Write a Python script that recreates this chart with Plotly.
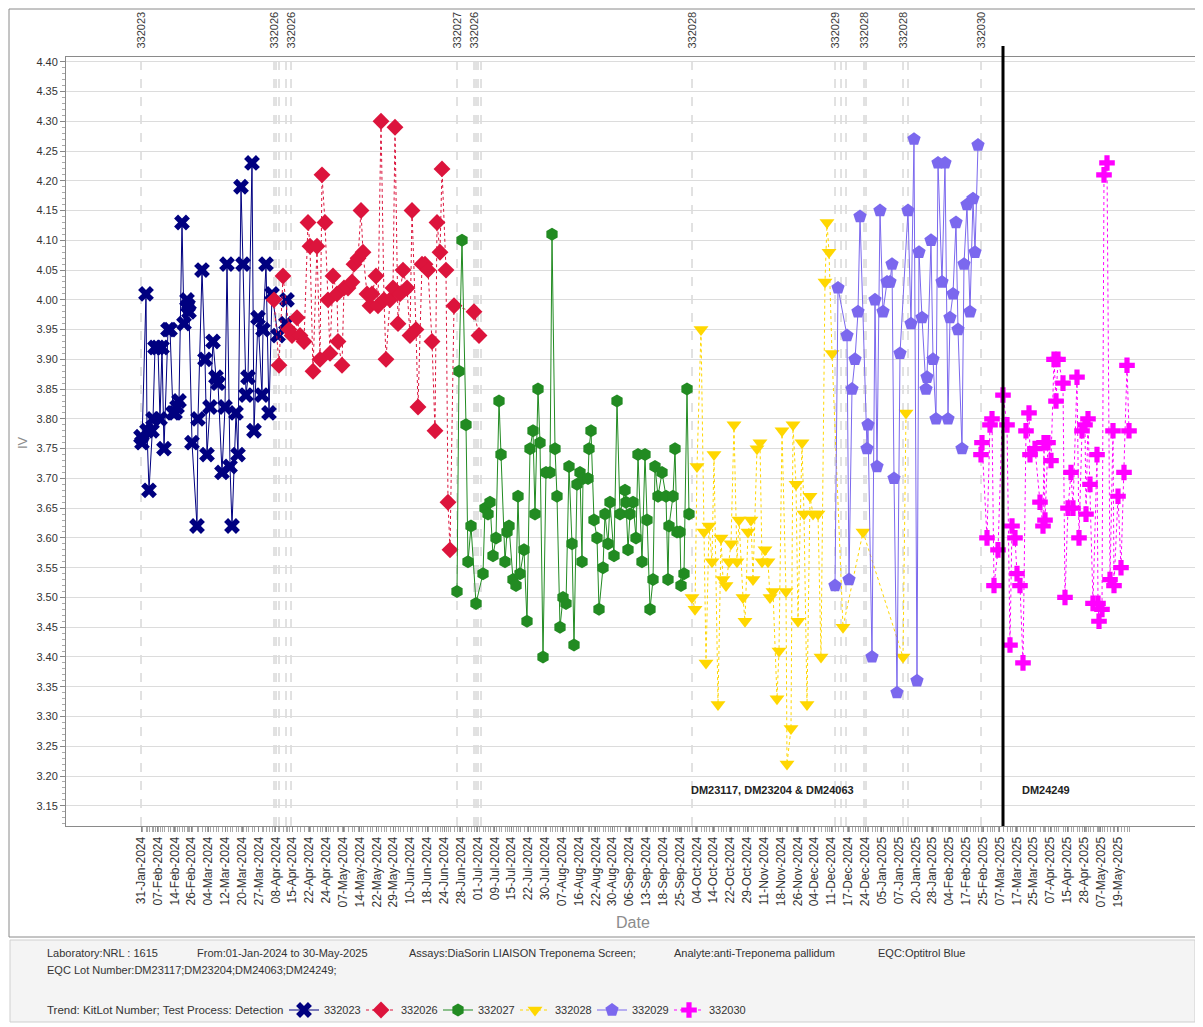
import plotly.graph_objects as go

# ---------------- data (x = run position on the ordinal date axis) ----------------
lot_names = ["332023", "332026", "332027", "332028", "332029", "332030"]
lot_colors = ["#000080", "#DC143C", "#228B22", "#FFD700", "#7B68EE", "#FF00FF"]
lot_symbols = ["x", "diamond", "hexagon", "triangle-down", "pentagon", "cross"]
lot_dash = ["solid", "dot", "solid", "dot", "solid", "dot"]
lot_sizes = [14, 13, 13, 13, 14, 13]

run_332023 = [0, 1, 5, 6, 8, 11, 12, 14, 17, 19, 21, 23, 27, 29, 32, 34, 36, 38, 41, 43,
              46, 47, 48, 51, 56, 57, 61, 64, 66, 69, 72, 75, 77, 81, 84, 86, 89, 91, 95, 97,
              100, 102, 105, 107, 111, 113, 117, 121, 122, 125, 128, 131, 137, 145, 146]
iv_332023 = [3.77, 3.76, 4.01, 3.78, 3.68, 3.78, 3.80, 3.92, 3.92, 3.80, 3.92, 3.75, 3.95, 3.95, 3.81,
             3.81, 3.82, 3.83, 4.13, 3.96, 4.00, 3.99, 3.98, 3.76, 3.62, 3.80, 4.05, 3.90, 3.74, 3.82,
             3.93, 3.87, 3.86, 3.71, 3.82, 4.06, 3.72, 3.62, 3.81, 3.74, 4.19, 4.06, 3.84, 3.87, 4.23,
             3.78, 3.97, 3.84, 3.95, 4.06, 3.81, 4.01, 3.94, 3.96, 4.00]

run_332026 = [133, 138, 142, 148, 151, 156, 159, 163, 167, 169, 172, 176, 179, 181, 184, 187, 189, 192,
              196, 197, 201, 203, 207, 211, 213, 217, 220, 222, 226, 229, 231, 235, 237, 240, 243, 245,
              249, 252, 254, 257, 259, 262, 266, 269, 271, 275, 277, 281, 284, 287, 291, 294, 296, 299,
              301, 305, 307, 309, 313, 333, 338]
iv_332026 = [4.00, 3.89, 4.04, 3.95, 3.94, 3.97, 3.94, 3.93, 4.13, 4.09, 3.88, 4.09, 3.90, 4.21, 4.13,
             4.00, 3.91, 4.04, 4.01, 3.93, 3.89, 4.02, 4.02, 4.03, 4.06, 4.07, 4.15, 4.08, 4.01, 3.99,
             4.01, 4.04, 3.99, 4.30, 4.00, 3.90, 4.00, 4.02, 4.29, 3.96, 4.01, 4.05, 4.02, 3.94, 4.15,
             3.95, 3.82, 4.06, 4.06, 4.05, 3.93, 3.78, 4.13, 4.08, 4.22, 4.05, 3.66, 3.58, 3.99, 3.98,
             3.94]

run_332027 = [316, 318, 321, 325, 327, 330, 335, 342, 344, 347, 349, 352, 355, 358, 360, 364, 366, 368,
              372, 375, 377, 379, 383, 386, 389, 392, 394, 397, 399, 402, 405, 409, 411, 414, 416, 419,
              422, 425, 428, 431, 433, 436, 439, 441, 442, 447, 448, 450, 453, 456, 458, 462, 464, 467,
              469, 473, 476, 479, 484, 485, 487, 489, 492, 495, 497, 501, 504, 506, 509, 512, 514, 517,
              521, 525, 527, 528, 532, 534, 536, 539, 540, 543, 546, 548]
iv_332027 = [3.51, 3.88, 4.10, 3.79, 3.56, 3.62, 3.49, 3.54, 3.65, 3.64, 3.66, 3.57, 3.60, 3.83, 3.74,
             3.56, 3.61, 3.62, 3.53, 3.52, 3.67, 3.54, 3.58, 3.46, 3.75, 3.78, 3.64, 3.85, 3.76, 3.40,
             3.71, 3.71, 4.11, 3.75, 3.67, 3.45, 3.50, 3.49, 3.72, 3.59, 3.42, 3.69, 3.71, 3.56, 3.70,
             3.70, 3.75, 3.78, 3.63, 3.60, 3.48, 3.55, 3.64, 3.59, 3.66, 3.57, 3.83, 3.64, 3.68, 3.66,
             3.58, 3.64, 3.66, 3.60, 3.74, 3.56, 3.74, 3.63, 3.48, 3.53, 3.72, 3.67, 3.71, 3.67, 3.53,
             3.62, 3.67, 3.75, 3.61, 3.61, 3.52, 3.54, 3.85, 3.64]

run_332028 = [551, 554, 556, 560, 563, 565, 568, 571, 573, 577, 580, 582, 585, 588, 590, 593, 596, 598,
              602, 604, 607, 610, 612, 616, 619, 621, 624, 627, 629, 632, 636, 638, 641, 645, 646, 650,
              652, 655, 657, 661, 663, 666, 669, 672, 677, 680, 684, 686, 688, 691, 702, 722, 762, 765]
iv_332028 = [3.50, 3.48, 3.72, 3.95, 3.61, 3.39, 3.62, 3.56, 3.74, 3.32, 3.60, 3.53, 3.52, 3.56, 3.59,
             3.79, 3.56, 3.63, 3.50, 3.46, 3.61, 3.63, 3.53, 3.75, 3.76, 3.56, 3.58, 3.56, 3.50, 3.51,
             3.33, 3.41, 3.78, 3.51, 3.22, 3.28, 3.79, 3.69, 3.46, 3.76, 3.64, 3.32, 3.67, 3.64, 3.64,
             3.40, 4.03, 4.13, 4.08, 3.91, 3.45, 3.61, 3.40, 3.81]

run_332029 = [694, 697, 706, 708, 711, 714, 717, 719, 726, 727, 731, 734, 736, 739, 742, 746, 749, 751,
              753, 756, 759, 767, 770, 773, 776, 778, 781, 785, 786, 790, 792, 795, 797, 801, 804, 807,
              809, 812, 815, 817, 821, 823, 826, 829, 832, 834, 837]
iv_332029 = [3.52, 4.02, 3.94, 3.53, 3.85, 3.90, 3.98, 4.14, 3.75, 3.79, 3.40, 4.00, 3.72, 4.15, 3.98,
             4.03, 4.03, 4.06, 3.70, 3.34, 3.91, 4.15, 3.96, 4.27, 3.36, 4.08, 3.97, 3.85, 3.87, 4.10,
             3.90, 3.80, 4.23, 4.03, 4.23, 3.80, 3.97, 4.01, 4.13, 3.95, 3.75, 4.06, 4.16, 3.98, 4.17,
             4.08, 4.26]

run_332030 = [840, 841, 846, 849, 851, 853, 857, 862, 866, 869, 871, 874, 876, 879, 882, 885, 888, 889,
              894, 899, 902, 903, 904, 907, 910, 913, 915, 917, 922, 924, 927, 930, 932, 936, 938, 941,
              944, 945, 947, 949, 952, 956, 957, 958, 961, 963, 966, 969, 972, 973, 977, 980, 983, 986,
              988]
iv_332030 = [3.74, 3.76, 3.60, 3.79, 3.80, 3.52, 3.58, 3.84, 3.79, 3.42, 3.62, 3.60, 3.54, 3.52, 3.39,
             3.78, 3.81, 3.74, 3.75, 3.66, 3.62, 3.76, 3.63, 3.76, 3.73, 3.90, 3.83, 3.90, 3.86, 3.50,
             3.65, 3.71, 3.65, 3.87, 3.60, 3.78, 3.79, 3.64, 3.80, 3.69, 3.49, 3.74, 3.49, 3.46, 3.48,
             4.21, 4.23, 3.53, 3.78, 3.52, 3.67, 3.55, 3.71, 3.89, 3.78]

runs = [run_332023, run_332026, run_332027, run_332028, run_332029, run_332030]
ivs = [iv_332023, iv_332026, iv_332027, iv_332028, iv_332029, iv_332030]

# date tick labels (one label every tick step along the run axis)
date_labels = ["31-Jan-2024", "07-Feb-2024", "14-Feb-2024", "26-Feb-2024", "04-Mar-2024", "12-Mar-2024",
               "20-Mar-2024", "27-Mar-2024", "08-Apr-2024", "15-Apr-2024", "22-Apr-2024", "24-Apr-2024",
               "07-May-2024", "14-May-2024", "22-May-2024", "29-May-2024", "10-Jun-2024", "18-Jun-2024",
               "24-Jun-2024", "28-Jun-2024", "01-Jul-2024", "09-Jul-2024", "15-Jul-2024", "22-Jul-2024",
               "30-Jul-2024", "07-Aug-2024", "16-Aug-2024", "22-Aug-2024", "30-Aug-2024", "06-Sep-2024",
               "13-Sep-2024", "18-Sep-2024", "25-Sep-2024", "04-Oct-2024", "14-Oct-2024", "22-Oct-2024",
               "29-Oct-2024", "11-Nov-2024", "18-Nov-2024", "26-Nov-2024", "04-Dec-2024", "11-Dec-2024",
               "17-Dec-2024", "24-Dec-2024", "05-Jan-2025", "07-Jan-2025", "20-Jan-2025", "28-Jan-2025",
               "04-Feb-2025", "17-Feb-2025", "25-Feb-2025", "07-Mar-2025", "17-Mar-2025", "25-Mar-2025",
               "07-Apr-2025", "15-Apr-2025", "28-Apr-2025", "07-May-2025", "19-May-2025"]
TICK_STEP = 16.84

# kit-lot change markers (run position, label)
lot_change_runs = [0, 133, 135, 138, 145, 150, 316, 333, 335, 337, 340, 551, 694, 700, 705, 723, 725,
                   762, 767, 840]
lot_change_labels = ["332023", "332026", "", "", "", "332026", "332027", "332026", "", "", "",
                     "332028", "332029", "", "", "332028", "", "332028", "", "332030"]

# EQC lot change
eqc_change_run = 862
eqc_groups = ["DM23117, DM23204 & DM24063", "DM24249"]
eqc_group_runs = [631, 905]
eqc_label_iv = 3.177

yticks = [round(3.15 + 0.05 * i, 2) for i in range(26)]

info_line1 = ["Laboratory:NRL : 1615", "From:01-Jan-2024 to 30-May-2025",
              "Assays:DiaSorin LIAISON Treponema Screen;", "Analyte:anti-Treponema pallidum",
              "EQC:Optitrol Blue"]
info_line1_px = [45, 195, 407, 672, 876]
info_line2 = "EQC Lot Number:DM23117;DM23204;DM24063;DM24249;"
legend_title = "Trend: KitLot Number; Test Process: Detection"

# ---------------- layout geometry (page body has an 8px margin) ----------------
OFF = 8
W, H = 1203 - OFF, 1027 - OFF
PL, PR, PT, PB = 66, 1196, 57, 826          # plot-area edges in window pixels
L, R, T = PL - OFF, W - (PR - OFF), PT - OFF
B = H - (PB - OFF)
PW, PH = PR - PL, PB - PT
FONT = "Liberation Sans, Arial, sans-serif"


def px_x(p):
    return (p - PL) / PW


def px_y(p):
    return (PB - p) / PH


fig = go.Figure()
for name, color, sym, dash, size, rx, iv in zip(lot_names, lot_colors, lot_symbols, lot_dash,
                                                lot_sizes, runs, ivs):
    fig.add_trace(go.Scatter(
        x=rx, y=iv, name=name, mode="lines+markers",
        line=dict(color=color, width=1, dash=dash),
        marker=dict(symbol=sym, size=size, color=color, line=dict(width=0)),
    ))

all_runs = sorted(set(v for r in runs for v in r))

shapes = []
for r in lot_change_runs:
    shapes.append(dict(type="line", xref="x", yref="paper", x0=r, x1=r, y0=0, y1=1.004,
                       line=dict(color="#c4c4c4", width=1, dash="dash"), layer="below"))
shapes.append(dict(type="line", xref="x", yref="paper", x0=eqc_change_run, x1=eqc_change_run,
                   y0=0, y1=px_y(46), line=dict(color="black", width=3)))
# outer chart border and info box
shapes.append(dict(type="rect", xref="paper", yref="paper", x0=px_x(9), x1=px_x(1199),
                   y0=px_y(937), y1=px_y(9), line=dict(color="#8a8a8a", width=1), layer="below"))
shapes.append(dict(type="rect", xref="paper", yref="paper", x0=px_x(10), x1=px_x(1195),
                   y0=px_y(1022), y1=px_y(940), line=dict(color="#cfcfcf", width=1),
                   fillcolor="#f4f4f4", layer="below"))

annotations = []
for r, lab in zip(lot_change_runs, lot_change_labels):
    if lab:
        annotations.append(dict(x=r, y=px_y(51), xref="x", yref="paper", text=lab, showarrow=False,
                                textangle=-90, xanchor="center", yanchor="bottom",
                                font=dict(family=FONT, size=11, color="#3a3a3a")))
for txt, r in zip(eqc_groups, eqc_group_runs):
    annotations.append(dict(x=r, y=eqc_label_iv, xref="x", yref="y", text="<b>" + txt + "</b>",
                            showarrow=False, xanchor="center", yanchor="middle",
                            font=dict(family=FONT, size=11, color="#222222")))
annotations.append(dict(x=px_x(633), y=px_y(922), xref="paper", yref="paper", text="Date",
                        showarrow=False, xanchor="center", yanchor="middle",
                        font=dict(family=FONT, size=16, color="#8c8c8c")))
annotations.append(dict(x=px_x(22), y=px_y(443), xref="paper", yref="paper", text="IV",
                        showarrow=False, textangle=-90, xanchor="center", yanchor="middle",
                        font=dict(family=FONT, size=13, color="#8c8c8c")))
for txt, p in zip(info_line1, info_line1_px):
    annotations.append(dict(x=px_x(p), y=px_y(953), xref="paper", yref="paper", text=txt,
                            showarrow=False, xanchor="left", yanchor="middle",
                            font=dict(family=FONT, size=11, color="#333333")))
annotations.append(dict(x=px_x(45), y=px_y(970), xref="paper", yref="paper", text=info_line2,
                        showarrow=False, xanchor="left", yanchor="middle",
                        font=dict(family=FONT, size=11, color="#333333")))
annotations.append(dict(x=px_x(45), y=px_y(1010), xref="paper", yref="paper", text=legend_title,
                        showarrow=False, xanchor="left", yanchor="middle",
                        font=dict(family=FONT, size=11.5, color="#333333")))

fig.update_layout(
    width=W, height=H,
    margin=dict(l=L, r=R, t=T, b=B, pad=0, autoexpand=False),
    paper_bgcolor="white", plot_bgcolor="white",
    font=dict(family=FONT, size=11, color="#333333"),
    showlegend=True,
    legend=dict(orientation="h", x=px_x(284), y=px_y(1010), xanchor="left", yanchor="middle",
                font=dict(family=FONT, size=11, color="#333"), bgcolor="rgba(0,0,0,0)",
                itemwidth=30, tracegroupgap=0, entrywidth=32, entrywidthmode="pixels"),
    shapes=shapes, annotations=annotations,
    xaxis=dict(range=[-75, 1055], showgrid=False, zeroline=False, automargin=False,
               tickmode="array", tickvals=[i * TICK_STEP for i in range(len(date_labels))],
               ticktext=date_labels, tickangle=-90, ticks="outside", ticklen=5, tickcolor="#888",
               tickfont=dict(family=FONT, size=12, color="#333"),
               minor=dict(tickmode="array", tickvals=all_runs, ticks="outside", ticklen=5,
                          tickcolor="#a8a8a8", showgrid=False),
               showline=True, linecolor="#8a8a8a", mirror=True),
    yaxis=dict(range=[3.116, 4.408], tickmode="array", tickvals=yticks, automargin=False,
               ticktext=["%.2f" % v for v in yticks], showgrid=True, gridcolor="#dcdcdc",
               zeroline=False, ticks="outside", ticklen=5, tickcolor="#888",
               tickfont=dict(family=FONT, size=11, color="#333"),
               minor=dict(dtick=0.01, ticks="outside", ticklen=3, tickcolor="#aaa", showgrid=False),
               showline=True, linecolor="#8a8a8a", mirror=True),
)

fig.write_html("out.html")
